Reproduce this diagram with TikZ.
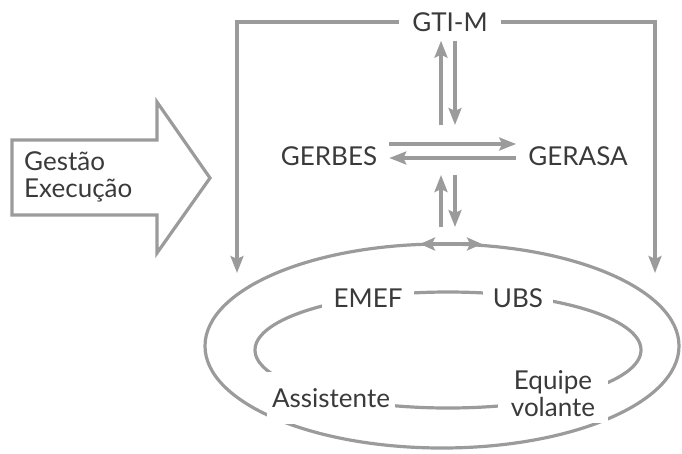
\documentclass[tikz,border=0pt]{standalone}
\usepackage{fontspec}
\setmainfont{Lato}
\usetikzlibrary{positioning,shapes.geometric,arrows.meta}
\definecolor{linegray}{HTML}{9B9B9B}
\definecolor{textgray}{HTML}{3A3A3A}

\begin{document}
\begin{tikzpicture}[
  x=1pt, y=-1pt,
  txt/.style={text=textgray, font=\fontsize{26}{27}\selectfont, inner sep=6pt},
  hole/.style={txt, fill=white},
  line/.style={draw=linegray, line width=3.2pt},
  arrow/.style={line, -{Stealth[length=17pt, width=13pt, inset=3pt]}},
  dblarrow/.style={line, {Stealth[length=15pt, width=13pt, inset=3pt]}-{Stealth[length=15pt, width=13pt, inset=3pt]}}
]
\useasboundingbox (0,0) rectangle (682,453);

% Gestao / Execucao block arrow
\node[txt, align=left, anchor=west, inner sep=0pt] (gestao) at (24,177) {Gestão\\Execução};
\draw[line] (12,140) -- (157,140) -- (157,102) -- (210,178) -- (157,253) -- (157,215) -- (12,215) -- cycle;

% GTI-M and the frame down to the ring
\node[txt, inner xsep=13pt, inner ysep=9pt] (gtim) at (450,22) {GTI-M};
\coordinate (lcorner) at (237,22);
\coordinate (ltip) at (237,273);
\coordinate (rcorner) at (655,22);
\coordinate (rtip) at (655,273);
\draw[arrow] (gtim.west) -- (lcorner) -- (ltip);
\draw[arrow] (gtim.east) -- (rcorner) -- (rtip);

% GERBES <-> GERASA
\node[txt, inner sep=12pt] (gerbes) at (329,156) {GERBES};
\node[txt, inner sep=12pt] (gerasa) at (578,156) {GERASA};
\draw[arrow] ([yshift=12pt]gerbes.east) -- ([yshift=12pt]gerbes.east -| gerasa.west);
\draw[arrow] ([yshift=-2pt]gerasa.west) -- ([yshift=-2pt]gerasa.west -| gerbes.east);

% vertical links above and below the cross
\coordinate (hubN) at (448,125);
\coordinate (hubS) at (448,175);
\coordinate (hubB) at (448,227);
\draw[arrow] ([xshift=-7pt]hubN) -- ([xshift=-7pt]hubN |- gtim.south);
\draw[arrow] ([xshift=7pt]hubN |- gtim.south) -- ([xshift=7pt]hubN);
\draw[arrow] ([xshift=-7pt]hubB) -- ([xshift=-7pt]hubS);
\draw[arrow] ([xshift=7pt]hubS) -- ([xshift=7pt]hubB);

% outer ring
\node[ellipse, line, minimum width=474pt, minimum height=204pt, inner sep=0pt, outer sep=0pt] (ring) at (442,346) {};
\draw[dblarrow] ([xshift=-22pt]ring.north) -- ([xshift=40pt]ring.north);

% inner loop
\node[ellipse, line, minimum width=386pt, minimum height=116pt, inner sep=0pt, outer sep=0pt] (loop) at (448,350) {};
\node[hole, inner xsep=12pt, inner ysep=8pt] (emef) at (368,298) {EMEF};
\node[hole, inner xsep=10pt, inner ysep=8pt] (ubs) at (518,298) {UBS};
\node[hole, inner xsep=5pt, inner ysep=16pt] (assist) at (331,398) {Assistente};
\node[hole, align=center, inner xsep=13pt, inner ysep=6pt] (equipe) at (553,394) {Equipe\\volante};

\end{tikzpicture}
\end{document}
